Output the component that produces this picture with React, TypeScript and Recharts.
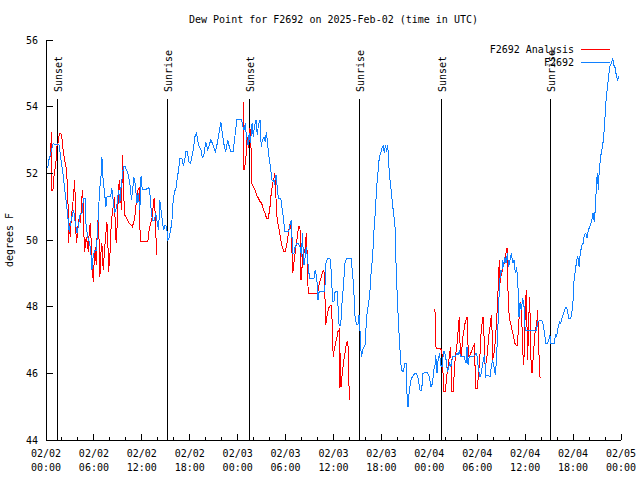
import React from 'react';
import { LineChart, Line, XAxis, YAxis, ReferenceLine, Legend } from 'recharts';

const FONT = '"DejaVu Sans Mono", "Liberation Mono", monospace';
const RED = '#ff0000';
const BLUE = '#1080ff';

const titleText = 'Dew Point for F2692 on 2025-Feb-02 (time in UTC)';
const yAxisTitle = 'degrees F';
const seriesNames = ['F2692 Analysis', 'F2692'];

// hours since 2025-02-02 00:00 UTC
const xTickHours = [0, 2, 4, 6, 8, 10, 12, 14, 16, 18, 20, 22, 24, 26, 28, 30, 32, 34, 36, 38, 40, 42, 44, 46, 48, 50, 52, 54, 56, 58, 60, 62, 64, 66, 68, 70, 72];
const majorTickHours = [0, 6, 12, 18, 24, 30, 36, 42, 48, 54, 60, 66, 72];
const tickDates = ['02/02', '02/02', '02/02', '02/02', '02/03', '02/03', '02/03', '02/03', '02/04', '02/04', '02/04', '02/04', '02/05'];
const tickTimes = ['00:00', '06:00', '12:00', '18:00', '00:00', '06:00', '12:00', '18:00', '00:00', '06:00', '12:00', '18:00', '00:00'];
const yTicks = [44, 46, 48, 50, 52, 54, 56];

const sunEventHours = [1.46, 15.2, 25.46, 39.24, 49.5, 63.15];
const sunEventLabels = ['Sunset', 'Sunrise', 'Sunset', 'Sunrise', 'Sunset', 'Sunrise'];
const sunLineTop = 54.23;

const analysisPoints: [number, number | null][] = [
  [0.58, 52.5], [0.67, 53.25], [0.75, 51.5], [0.87, 51.5], [1.0, 51.9], [1.17, 52.2], [1.3, 52.45], [1.37, 52.8],
  [1.5, 52.9], [1.67, 53.2], [1.87, 53.2], [2.0, 53.05], [2.17, 52.65], [2.33, 52.4], [2.5, 52.2], [2.6, 52.0],
  [2.75, 51.2], [2.83, 49.9], [2.9, 50.5], [3.04, 50.1], [3.17, 50.7], [3.33, 51.0], [3.5, 51.5], [3.58, 51.8],
  [3.67, 51.2], [3.75, 50.2], [3.83, 49.9], [4.0, 50.4], [4.17, 50.7], [4.33, 50.5], [4.46, 51.2], [4.58, 51.5],
  [4.67, 51.1], [4.8, 49.65], [4.92, 49.8], [5.04, 50.1], [5.17, 49.9], [5.3, 49.65], [5.42, 50.3], [5.54, 50.5],
  [5.67, 49.9], [5.83, 49.05], [5.92, 48.75], [6.04, 49.4], [6.17, 49.8], [6.29, 49.25], [6.42, 50.3], [6.54, 50.7],
  [6.67, 49.8], [6.75, 48.9], [6.87, 49.6], [7.0, 49.9], [7.08, 49.5], [7.17, 49.1], [7.33, 49.7], [7.5, 50.2],
  [7.63, 50.55], [7.75, 49.9], [7.83, 49.05], [8.0, 49.5], [8.13, 50.3], [8.25, 50.7], [8.42, 51.0], [8.54, 51.3],
  [8.67, 50.5], [8.79, 49.9], [8.92, 50.5], [9.04, 51.2], [9.17, 51.8], [9.33, 51.3], [9.46, 50.9], [9.58, 52.55],
  [9.71, 51.6], [9.83, 50.75], [10.0, 50.7], [10.2, 50.6], [10.42, 50.5], [10.67, 50.45], [10.83, 50.4], [11.04, 50.6],
  [11.17, 50.8], [11.33, 51.2], [11.5, 51.5], [11.67, 51.55], [11.8, 49.95], [12.75, 49.95], [12.92, 50.3], [13.08, 50.5],
  [13.25, 50.6], [13.42, 51.0], [13.54, 51.25], [13.67, 50.8], [13.75, 50.3], [13.83, 49.55],
  [14.0, null],
  [24.7, 54.15], [24.79, 52.1], [24.9, 52.2], [25.04, 52.5], [25.2, 53.1], [25.37, 52.75], [25.54, 53.35], [25.67, 52.75],
  [25.8, 51.65], [25.96, 51.6], [26.17, 51.5], [26.38, 51.35], [26.6, 51.25], [26.8, 51.15], [27.0, 51.1], [27.2, 50.95],
  [27.42, 50.8], [27.63, 50.65], [27.84, 50.65], [28.05, 51.0], [28.2, 51.4], [28.38, 51.7], [28.55, 51.85], [28.67, 52.0],
  [28.8, 51.25], [28.96, 50.55], [29.13, 50.4], [29.3, 50.15], [29.47, 49.9], [29.63, 49.75], [29.8, 49.65], [29.97, 49.65],
  [30.13, 49.85], [30.3, 50.1], [30.47, 50.4], [30.63, 50.55], [30.76, 50.0], [30.88, 49.0], [31.0, 49.2], [31.13, 49.5],
  [31.3, 49.8], [31.47, 50.1], [31.63, 50.4], [31.8, 50.4], [31.93, 48.8], [32.1, 49.3], [32.22, 49.7], [32.4, 49.6],
  [32.51, 50.0], [32.64, 50.2], [32.76, 48.85], [32.85, 48.4], [34.0, 48.38], [34.14, 48.6], [34.3, 48.75], [34.47, 48.9],
  [34.64, 49.05], [34.8, 49.1], [34.93, 48.3], [35.02, 47.45], [35.14, 47.65], [35.3, 47.85], [35.47, 48.0], [35.64, 48.05],
  [35.77, 48.05], [35.85, 47.3], [35.96, 46.5], [36.08, 46.7], [36.25, 46.9], [36.42, 47.05], [36.56, 47.25], [36.7, 47.3],
  [36.77, 45.55], [36.85, 46.6], [36.94, 45.6], [37.06, 45.9], [37.2, 46.2], [37.3, 46.4], [37.44, 46.6], [37.56, 46.8],
  [37.7, 46.95], [37.8, 46.95], [37.9, 46.1], [37.98, 45.2],
  [38.5, null],
  [48.7, 47.92], [48.84, 46.75], [49.34, 46.75], [49.55, 46.7], [49.67, 46.3], [49.8, 45.45], [50.0, 45.45], [50.17, 45.9],
  [50.34, 46.2], [50.5, 46.5], [50.67, 46.8], [50.76, 46.1], [50.84, 45.45], [51.0, 45.45], [51.13, 46.1], [51.26, 46.5],
  [51.43, 46.8], [51.55, 47.1], [51.67, 47.5], [51.76, 47.7], [51.84, 46.9], [51.97, 46.5], [52.1, 46.8], [52.2, 47.1],
  [52.34, 47.3], [52.47, 47.5], [52.64, 47.65], [52.72, 47.7], [52.8, 47.1], [52.9, 46.5], [53.0, 46.5], [53.18, 46.6],
  [53.35, 46.7], [53.5, 46.8], [53.68, 46.9], [53.76, 45.55], [54.0, 45.55], [54.18, 46.0], [54.35, 46.6], [54.5, 47.3],
  [54.68, 47.65], [54.76, 47.7], [54.85, 47.1], [54.93, 46.3], [55.1, 46.3], [55.26, 46.6], [55.43, 47.1], [55.6, 47.4],
  [55.77, 47.75], [55.85, 47.3], [55.93, 46.4], [56.1, 46.6], [56.27, 47.0], [56.43, 47.6], [56.56, 48.2], [56.7, 49.1],
  [56.77, 49.4], [56.85, 48.7], [56.93, 48.9], [57.06, 49.0], [57.18, 49.1], [57.27, 49.25], [57.4, 49.3], [57.52, 49.5],
  [57.6, 49.6], [57.73, 49.77], [57.81, 48.8], [57.9, 48.1], [58.02, 47.65], [58.2, 47.5], [58.35, 47.3], [58.52, 47.15],
  [58.7, 46.9], [58.86, 46.85], [59.0, 46.85], [59.15, 47.3], [59.27, 47.8], [59.4, 48.15], [59.52, 48.0], [59.6, 47.4],
  [59.7, 46.8], [59.77, 46.25], [59.9, 46.6], [59.98, 47.6], [60.06, 48.2], [60.15, 48.5], [60.23, 47.4], [60.31, 46.4],
  [60.44, 47.6], [60.56, 48.3], [60.65, 47.4], [60.73, 46.4], [60.86, 46.0], [60.98, 46.4], [61.1, 46.8], [61.23, 47.2],
  [61.36, 47.4], [61.48, 47.6], [61.57, 47.9], [61.65, 47.2], [61.73, 46.6], [61.8, 45.9], [61.94, 45.88],
];

const observedPoints: [number, number][] = [
  [0.2, 52.15], [0.4, 52.45], [0.6, 52.6], [0.9, 52.9], [1.25, 52.85], [1.6, 52.88], [1.7, 52.75], [1.9, 52.35],
  [2.1, 52.05], [2.3, 51.6], [2.5, 51.2], [2.7, 50.8], [2.9, 50.25], [3.0, 50.4], [3.25, 50.7], [3.45, 50.9],
  [3.65, 50.55], [3.9, 50.2], [4.1, 50.5], [4.3, 50.8], [4.5, 50.8], [4.7, 51.25], [4.9, 51.25], [5.0, 50.5],
  [5.2, 50.1], [5.4, 49.95], [5.6, 49.7], [5.75, 49.1], [5.9, 49.5], [6.1, 49.7], [6.3, 49.7], [6.45, 50.2],
  [6.6, 51.0], [6.75, 51.6], [6.9, 51.95], [7.0, 52.5], [7.15, 51.8], [7.3, 51.5], [7.5, 51.0], [7.65, 51.3],
  [7.9, 51.3], [8.1, 51.32], [8.25, 51.55], [8.4, 51.2], [8.6, 50.8], [8.75, 50.9], [8.9, 51.1], [9.1, 51.5],
  [9.25, 51.1], [9.4, 51.6], [9.7, 52.2], [9.9, 52.2], [10.1, 52.1], [10.3, 51.95], [10.5, 51.7], [10.7, 51.2],
  [10.85, 51.5], [11.0, 51.9], [11.15, 51.7], [11.4, 51.1], [11.55, 51.4], [11.75, 50.9], [11.9, 51.93], [12.05, 51.5],
  [12.3, 51.53], [12.6, 51.53], [12.9, 51.57], [13.05, 51.3], [13.2, 50.8], [13.35, 50.6], [13.55, 50.6], [13.75, 50.8],
  [13.95, 50.5], [14.1, 50.3], [14.25, 51.2], [14.4, 50.9], [14.6, 50.5], [14.75, 50.3], [14.9, 50.45], [15.1, 50.4],
  [15.25, 50.0], [15.4, 50.05], [15.6, 50.3], [15.75, 50.5], [15.9, 51.1], [16.1, 51.5], [16.25, 51.5], [16.4, 51.8],
  [16.6, 52.1], [16.75, 52.45], [17.0, 52.45], [17.2, 52.25], [17.35, 52.35], [17.5, 52.65], [17.7, 52.65], [17.9, 52.35],
  [18.1, 52.3], [18.4, 52.65], [18.65, 53.1], [18.85, 53.2], [19.1, 52.85], [19.4, 52.7], [19.6, 52.45], [19.8, 52.6],
  [20.0, 52.95], [20.25, 52.7], [20.45, 52.85], [20.65, 53.02], [20.9, 52.85], [21.2, 52.65], [21.45, 52.9], [21.7, 53.25],
  [21.9, 53.55], [22.1, 53.15], [22.3, 52.85], [22.5, 52.65], [22.75, 53.0], [22.95, 52.8], [23.1, 52.67], [23.45, 52.67],
  [23.65, 53.1], [23.9, 53.62], [24.5, 53.62], [24.6, 53.45], [24.8, 53.3], [24.95, 53.5], [25.1, 53.1], [25.3, 52.85],
  [25.45, 53.2], [25.6, 52.9], [25.8, 53.5], [25.95, 53.1], [26.1, 53.4], [26.3, 53.6], [26.45, 53.15], [26.6, 53.45],
  [26.8, 53.6], [26.95, 52.8], [27.1, 53.0], [27.3, 53.1], [27.45, 52.95], [27.6, 53.25], [27.8, 52.75], [27.95, 52.45],
  [28.1, 52.2], [28.3, 51.8], [28.45, 51.8], [28.6, 51.7], [28.8, 51.95], [28.95, 51.6], [29.1, 51.25], [29.4, 51.25],
  [29.55, 50.95], [29.7, 50.7], [29.9, 50.25], [30.4, 50.25], [30.55, 50.45], [30.7, 50.6], [30.9, 49.6], [31.05, 49.6],
  [31.2, 49.8], [31.4, 49.9], [31.6, 49.9], [31.8, 49.8], [32.0, 49.5], [32.1, 50.2], [32.3, 49.25], [32.45, 49.5],
  [32.6, 49.8], [32.8, 49.3], [33.0, 48.85], [33.55, 48.85], [33.7, 49.1], [33.9, 48.9], [34.05, 48.2], [34.2, 48.45],
  [34.9, 48.45], [35.05, 49.3], [35.25, 49.45], [35.55, 49.45], [35.7, 49.1], [35.9, 48.15], [36.06, 48.15], [36.2, 48.45],
  [36.5, 48.45], [36.6, 47.8], [36.7, 47.45], [36.9, 47.45], [37.06, 48.1], [37.2, 48.5], [37.44, 49.3], [37.65, 49.45],
  [38.2, 49.45], [38.3, 49.2], [38.5, 48.7], [38.6, 48.2], [38.7, 47.7], [38.86, 47.48], [39.07, 47.48], [39.2, 47.75],
  [39.3, 47.4], [39.4, 46.8], [39.5, 46.5], [39.65, 46.7], [39.86, 46.8], [40.0, 46.9], [40.07, 47.35], [40.2, 47.8],
  [40.4, 48.1], [40.57, 48.5], [40.7, 49.0], [40.9, 49.5], [41.07, 50.3], [41.25, 50.9], [41.4, 51.6], [41.6, 52.1],
  [41.74, 52.5], [41.9, 52.6], [42.07, 52.75], [42.24, 52.85], [42.36, 52.6], [42.5, 52.85], [42.65, 52.65], [42.8, 52.85],
  [42.9, 52.3], [43.07, 51.8], [43.24, 51.45], [43.4, 51.05], [43.57, 50.7], [43.74, 50.3], [43.8, 49.5], [44.0, 48.2],
  [44.16, 47.4], [44.3, 46.8], [44.5, 46.1], [44.75, 46.05], [44.95, 46.3], [45.08, 46.3], [45.2, 45.4], [45.33, 45.0],
  [45.5, 45.5], [45.7, 45.8], [45.88, 45.9], [46.2, 46.0], [46.4, 46.0], [46.6, 45.85], [46.83, 45.5], [47.04, 45.5],
  [47.2, 46.0], [47.46, 46.02], [47.75, 46.02], [48.0, 45.9], [48.2, 45.6], [48.4, 45.7], [48.55, 46.1], [48.7, 46.2],
  [48.8, 46.55], [48.96, 46.0], [49.1, 46.4], [49.3, 46.6], [49.4, 46.25], [49.63, 46.2], [49.76, 46.65], [49.9, 46.65],
  [50.1, 46.4], [50.26, 46.05], [50.38, 46.15], [50.55, 46.3], [50.7, 46.2], [50.9, 46.5], [51.26, 46.5], [51.43, 46.6],
  [51.6, 46.55], [51.76, 46.65], [51.93, 46.5], [52.34, 46.52], [52.6, 46.3], [52.72, 46.8], [52.85, 46.25], [53.0, 46.52],
  [53.6, 46.52], [53.85, 46.6], [54.0, 46.5], [54.14, 46.15], [54.35, 45.9], [54.5, 46.0], [54.76, 46.4], [54.93, 46.55],
  [55.05, 45.9], [55.2, 45.95], [55.6, 45.9], [55.77, 46.2], [55.93, 46.4], [56.1, 46.2], [56.27, 45.95], [56.4, 46.4],
  [56.5, 46.9], [56.64, 47.7], [56.77, 48.6], [56.93, 49.1], [57.06, 49.0], [57.2, 49.4], [57.3, 49.2], [57.44, 49.5],
  [57.6, 49.3], [57.77, 49.6], [57.93, 49.2], [58.1, 49.4], [58.27, 49.6], [58.44, 49.3], [58.6, 49.4], [58.77, 49.0],
  [58.94, 49.2], [59.1, 48.6], [59.23, 47.7], [59.35, 48.1], [59.5, 47.9], [59.7, 48.25], [59.86, 48.0], [60.0, 47.3],
  [61.4, 47.3], [61.6, 47.55], [61.94, 47.6], [62.15, 47.57], [62.3, 47.4], [62.45, 47.15], [62.6, 46.9], [62.8, 46.9],
  [63.0, 47.05], [63.1, 47.15], [63.2, 46.9], [63.65, 46.9], [63.8, 47.15], [63.95, 47.1], [64.1, 47.35], [64.3, 47.55],
  [64.45, 47.5], [64.6, 47.65], [64.8, 47.8], [64.95, 47.9], [65.1, 47.98], [65.3, 47.9], [65.45, 47.65], [65.7, 47.65],
  [65.9, 47.9], [66.0, 48.2], [66.1, 48.75], [66.3, 49.1], [66.45, 49.4], [66.6, 49.5], [66.75, 49.2], [66.9, 49.6],
  [67.1, 49.85], [67.25, 49.9], [67.4, 50.15], [67.6, 50.2], [67.75, 50.05], [67.9, 50.3], [68.1, 50.4], [68.3, 50.55],
  [68.5, 50.8], [68.66, 50.55], [68.8, 51.0], [68.95, 51.8], [69.07, 52.0], [69.15, 51.5], [69.28, 52.1], [69.45, 52.5],
  [69.6, 52.7], [69.8, 53.0], [69.95, 53.5], [70.1, 54.1], [70.3, 54.6], [70.45, 54.9], [70.6, 55.2], [70.8, 55.3],
  [70.95, 55.45], [71.1, 55.25], [71.2, 55.25], [71.37, 55.0], [71.55, 54.8], [71.7, 54.88], [71.8, 54.85],
];

const analysisData = analysisPoints.map(([h, v]) => ({ h, v }));
const observedData = observedPoints.map(([h, v]) => ({ h, v }));

const textProps = { fontFamily: FONT, fontSize: 10, fill: '#000' };

const BottomTick = (props: any) => {
  const { x, y, payload } = props;
  const idx = majorTickHours.indexOf(payload.value);
  const major = idx >= 0;
  return (
    <g>
      <line x1={x} y1={y} x2={x} y2={y - (major ? 6 : 3)} stroke="#000" />
      {major && (
        <text x={x} y={y} textAnchor="middle" {...textProps}>
          <tspan x={x} dy={17}>{tickDates[idx]}</tspan>
          <tspan x={x} dy={13.5}>{tickTimes[idx]}</tspan>
        </text>
      )}
    </g>
  );
};

const TopTick = (props: any) => {
  const { x, y, payload } = props;
  const major = majorTickHours.indexOf(payload.value) >= 0;
  return <line x1={x} y1={y} x2={x} y2={y + (major ? 6 : 3)} stroke="#000" />;
};

const LeftTick = (props: any) => {
  const { x, y, payload } = props;
  return (
    <g>
      <line x1={x} y1={y} x2={x + 7} y2={y} stroke="#000" />
      <text x={x - 8} y={y + 3.6} textAnchor="end" {...textProps}>{payload.value}</text>
    </g>
  );
};

const RightTick = (props: any) => {
  const { x, y } = props;
  return <line x1={x} y1={y} x2={x - 7} y2={y} stroke="#000" />;
};

const sunLabel = (text: string) => (props: any) => {
  const vb = props.viewBox || {};
  const x = (vb.x ?? 0) + 4.5;
  const y = (vb.y ?? 0) - 7;
  return (
    <text x={x} y={y} transform={`rotate(-90 ${x} ${y})`} textAnchor="start" {...textProps}>
      {text}
    </text>
  );
};

const yLabel = (props: any) => {
  const vb = props.viewBox || {};
  const x = (vb.x ?? 0) + 13;
  const y = (vb.y ?? 0) + (vb.height ?? 0) / 2;
  return (
    <text x={x} y={y} transform={`rotate(-90 ${x} ${y})`} textAnchor="middle" {...textProps}>
      {yAxisTitle}
    </text>
  );
};

const legendContent = () => (
  <svg width={160} height={28} style={{ display: 'block', overflow: 'visible' }}>
    <text x={104} y={10.6} textAnchor="end" {...textProps}>{seriesNames[0]}</text>
    <line x1={111} y1={7} x2={140} y2={7} stroke={RED} strokeWidth={1} />
    <text x={104} y={23.6} textAnchor="end" {...textProps}>{seriesNames[1]}</text>
    <line x1={111} y1={20} x2={140} y2={20} stroke={BLUE} strokeWidth={1} />
  </svg>
);

export default function App() {
  return (
    <div style={{ position: 'absolute', left: 0, top: 0, width: 640, height: 480, background: '#fff' }}>
      <div
        style={{
          position: 'absolute', left: 46, top: 14, width: 575, textAlign: 'center',
          fontFamily: FONT, fontSize: 10, lineHeight: '12px', color: '#000', whiteSpace: 'pre',
        }}
      >
        {titleText}
      </div>
      <LineChart
        width={640}
        height={480}
        margin={{ top: 40, right: 19, bottom: 0, left: 0 }}
        style={{ shapeRendering: 'crispEdges' }}
      >
        <XAxis
          dataKey="h" type="number" domain={[0, 72]} ticks={xTickHours} interval={0}
          height={40} tickSize={0} tickMargin={0} tickLine={false}
          axisLine={{ stroke: '#000' }} tick={<BottomTick />} allowDataOverflow
        />
        <XAxis
          xAxisId="top" orientation="top" dataKey="h" type="number" domain={[0, 72]} ticks={xTickHours}
          interval={0} height={0} tickSize={0} tickMargin={0} tickLine={false}
          axisLine={{ stroke: '#000' }} tick={<TopTick />} allowDataOverflow
        />
        <YAxis
          type="number" domain={[44, 56]} ticks={yTicks} interval={0} width={46}
          tickSize={0} tickMargin={0} tickLine={false} axisLine={{ stroke: '#000' }}
          tick={<LeftTick />} label={yLabel} allowDataOverflow
        />
        <YAxis
          yAxisId="right" orientation="right" type="number" domain={[44, 56]} ticks={yTicks} interval={0}
          width={0} tickSize={0} tickMargin={0} tickLine={false} axisLine={{ stroke: '#000' }}
          tick={<RightTick />} allowDataOverflow
        />
        {sunEventHours.map((h, i) => (
          <ReferenceLine
            key={`sun-${i}`}
            segment={[{ x: h, y: 44 }, { x: h, y: sunLineTop }]}
            stroke="#000"
            strokeWidth={1}
            label={sunLabel(sunEventLabels[i])}
          />
        ))}
        <Line
          data={analysisData} dataKey="v" name={seriesNames[0]} type="linear" stroke={RED} strokeWidth={1}
          dot={false} activeDot={false} isAnimationActive={false} connectNulls={false}
        />
        <Line
          data={observedData} dataKey="v" name={seriesNames[1]} type="linear" stroke={BLUE} strokeWidth={1}
          dot={false} activeDot={false} isAnimationActive={false}
        />
        <Legend
          layout="horizontal" verticalAlign="middle" align="center"
          wrapperStyle={{ position: 'absolute', top: 42, left: 470, right: 'auto', bottom: 'auto', width: 160, height: 28 }}
          content={legendContent}
        />
      </LineChart>
    </div>
  );
}
